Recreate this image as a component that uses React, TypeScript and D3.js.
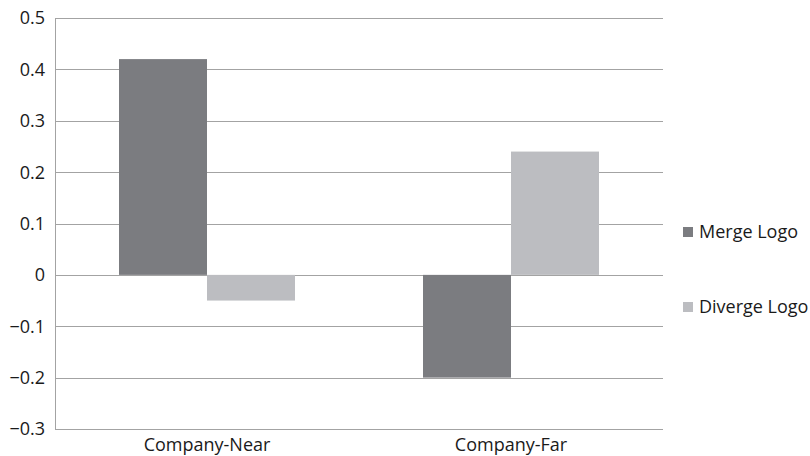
import { useEffect, useRef } from 'react';
import * as d3 from 'd3';

const categories = ['Company-Near', 'Company-Far'];
const seriesNames = ['Merge Logo', 'Diverge Logo'];
const mergeValues = [0.42, -0.2];
const divergeValues = [-0.05, 0.24];
const yTicks = [0.5, 0.4, 0.3, 0.2, 0.1, 0, -0.1, -0.2, -0.3];
const colors = ['#7b7c80', '#bcbdc1'];

const App = () => {
  const ref = useRef<SVGSVGElement>(null);

  const margin = { top: 18, left: 55 };
  const width = 608;
  const height = 411;

  useEffect(() => {
    const svg = d3.select(ref.current);
    svg.selectAll('*').remove();
    const g = svg.append('g').attr('transform', `translate(${margin.left},${margin.top})`);

    const y = d3.scaleLinear().domain([-0.3, 0.5]).range([height, 0]);
    const x0 = d3.scaleBand().domain(categories).range([0, width]);
    const x1 = d3
      .scaleBand()
      .domain(seriesNames)
      .range([64, x0.bandwidth() - 64]);

    // gridlines
    g.append('g')
      .selectAll('line')
      .data(yTicks)
      .enter()
      .append('line')
      .attr('x1', 0)
      .attr('x2', width)
      .attr('y1', (d) => Math.round(y(d)) + 0.5)
      .attr('y2', (d) => Math.round(y(d)) + 0.5)
      .attr('stroke', '#a3a3a3')
      .attr('stroke-width', 1);

    // y labels
    g.append('g')
      .selectAll('text')
      .data(yTicks)
      .enter()
      .append('text')
      .attr('x', -10)
      .attr('y', (d) => y(d))
      .attr('dy', '0.36em')
      .attr('text-anchor', 'end')
      .attr('font-family', 'Open Sans')
      .attr('font-size', 18)
      .attr('fill', '#1a1a1a')
      .text((d) => (d < 0 ? '\u2212' + (-d).toString() : d.toString()));

    // bars
    const rows = categories.map((c, i) => [
      { cat: c, s: seriesNames[0], v: mergeValues[i], col: colors[0] },
      { cat: c, s: seriesNames[1], v: divergeValues[i], col: colors[1] },
    ]);
    g.append('g')
      .selectAll('rect')
      .data(rows.flat())
      .enter()
      .append('rect')
      .attr('x', (d) => (x0(d.cat) as number) + (x1(d.s) as number))
      .attr('width', x1.bandwidth())
      .attr('y', (d) => y(Math.max(0, d.v)))
      .attr('height', (d) => Math.abs(y(d.v) - y(0)))
      .attr('fill', (d) => d.col);

    // left axis line
    g.append('line')
      .attr('x1', 0.5)
      .attr('x2', 0.5)
      .attr('y1', 0)
      .attr('y2', height)
      .attr('stroke', '#a3a3a3');

    // x labels
    g.append('g')
      .selectAll('text')
      .data(categories)
      .enter()
      .append('text')
      .attr('x', (d) => (x0(d) as number) + x0.bandwidth() / 2)
      .attr('y', height + 22)
      .attr('text-anchor', 'middle')
      .attr('font-family', 'Open Sans')
      .attr('font-size', 18)
      .attr('fill', '#1a1a1a')
      .text((d) => d);

    // legend
    const legend = svg
      .append('g')
      .selectAll('g')
      .data(seriesNames)
      .enter()
      .append('g')
      .attr('transform', (_d, i) => `translate(683,${227 + i * 75})`);
    legend
      .append('rect')
      .attr('width', 10)
      .attr('height', 10)
      .attr('fill', (_d, i) => colors[i]);
    legend
      .append('text')
      .attr('x', 16)
      .attr('y', 5)
      .attr('dy', '0.36em')
      .attr('font-family', 'Open Sans')
      .attr('font-size', 18)
      .attr('fill', '#1a1a1a')
      .text((d) => d);
  }, []);

  return (
    <svg
      ref={ref}
      width={810}
      height={456}
      style={{ position: 'absolute', left: 0, top: 0, background: '#fff' }}
    />
  );
};

export default App;
